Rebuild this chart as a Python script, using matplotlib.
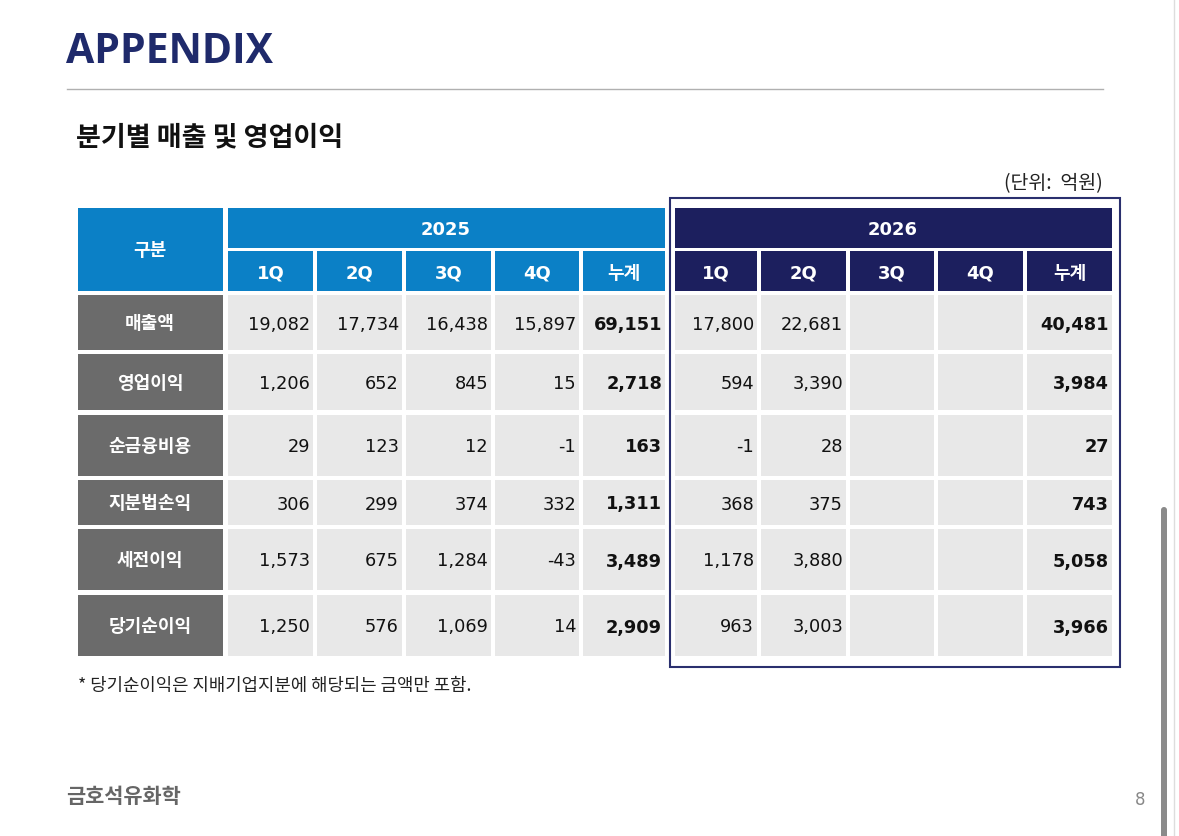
import matplotlib
matplotlib.use("Agg")
import matplotlib.pyplot as plt
from matplotlib.patches import Rectangle, FancyBboxPatch

KR = ['Noto Sans CJK KR', 'DejaVu Sans']
NUM = ['DejaVu Sans', 'Noto Sans CJK KR']

rows = ["매출액", "영업이익", "순금융비용", "지분법손익", "세전이익", "당기순이익"]
quarters = ["1Q", "2Q", "3Q", "4Q", "누계"]
v2025 = [["19,082", "17,734", "16,438", "15,897", "69,151"],
         ["1,206", "652", "845", "15", "2,718"],
         ["29", "123", "12", "-1", "163"],
         ["306", "299", "374", "332", "1,311"],
         ["1,573", "675", "1,284", "-43", "3,489"],
         ["1,250", "576", "1,069", "14", "2,909"]]
v2026 = [["17,800", "22,681", "", "", "40,481"],
         ["594", "3,390", "", "", "3,984"],
         ["-1", "28", "", "", "27"],
         ["368", "375", "", "", "743"],
         ["1,178", "3,880", "", "", "5,058"],
         ["963", "3,003", "", "", "3,966"]]

fig = plt.figure(figsize=(11.79, 8.37), dpi=100)
ax = fig.add_axes([0, 0, 1, 1])
ax.set_xlim(0, 1179); ax.set_ylim(837, 0); ax.axis('off')

NAVY = '#1c1f5e'; BLUE = '#0b80c6'; GRAY = '#6b6b6b'; LIGHT = '#e8e8e8'

ax.text(66, 52, "APPENDIX", fontsize=29.5, fontweight='bold', color='#1f2a6b',
        va='center', ha='left', family=['Open Sans', 'DejaVu Sans'])
ax.plot([67, 1103], [90, 90], color='#b0b0b0', lw=1)
ax.text(76, 137, "분기별 매출 및 영업이익", fontsize=19.5, fontweight='bold', color='#111',
        va='center', family=KR)
ax.text(1103, 184, "(단위:  억원)", fontsize=14, color='#222', va='center', ha='right', family=KR)

cols25 = [(228, 313), (317, 402), (406, 491), (495, 579), (583, 665)]
cols26 = [(675, 757), (761, 846), (850, 934), (938, 1023), (1027, 1112)]
rowy = [(296, 351), (355, 411), (416, 477), (481, 526), (530, 591), (596, 657)]

def cell(x0, x1, y0, y1, c):
    ax.add_patch(Rectangle((x0, y0), x1 - x0, y1 - y0, color=c, lw=0))

cell(78, 223, 209, 292, BLUE)
ax.text(150, 250, "구분", fontsize=13, fontweight='bold', color='white', ha='center', va='center', family=KR)
cell(228, 665, 209, 249, BLUE)
ax.text(446, 230, "2025", fontsize=13, fontweight='bold', color='white', ha='center', va='center', family=NUM)
cell(675, 1112, 209, 249, NAVY)
ax.text(893, 230, "2026", fontsize=13, fontweight='bold', color='white', ha='center', va='center', family=NUM)
for cols, c in ((cols25, BLUE), (cols26, NAVY)):
    for (x0, x1), q in zip(cols, quarters):
        cell(x0, x1, 252, 292, c)
        ax.text((x0 + x1) / 2, 273, q, fontsize=13, fontweight='bold', color='white',
                ha='center', va='center', family=KR if q == "누계" else NUM)

for i, (y0, y1) in enumerate(rowy):
    cy = (y0 + y1) / 2
    cell(78, 223, y0, y1, GRAY)
    ax.text(150, cy, rows[i], fontsize=13, fontweight='bold', color='white', ha='center', va='center', family=KR)
    for cols, vals in ((cols25, v2025[i]), (cols26, v2026[i])):
        for j, ((x0, x1), v) in enumerate(zip(cols, vals)):
            cell(x0, x1, y0, y1, LIGHT)
            ax.text(x1 - 3, cy + 1, v, fontsize=12.8, color='#111', ha='right', va='center',
                    fontweight='bold' if j == 4 else 'normal', family=NUM)

ax.add_patch(Rectangle((670, 199), 450, 469, fill=False, ec='#2a2f6e', lw=1.5))

ax.text(78, 686, "* 당기순이익은 지배기업지분에 해당되는 금액만 포함.", fontsize=12.8, color='#222',
        va='center', family=KR)
ax.text(66, 797, "금호석유화학", fontsize=15, fontweight='bold', color='#666', va='center', family=KR)
ax.text(1140, 800, "8", fontsize=12, color='#888', va='center', ha='center', family=NUM)
ax.add_patch(FancyBboxPatch((1161, 508), 6, 340, boxstyle="round,pad=0,rounding_size=3",
                            color='#8a8a8a', lw=0))
ax.plot([1174, 1174], [0, 837], color='#dddddd', lw=1)

fig.savefig("out.png", dpi=100)
